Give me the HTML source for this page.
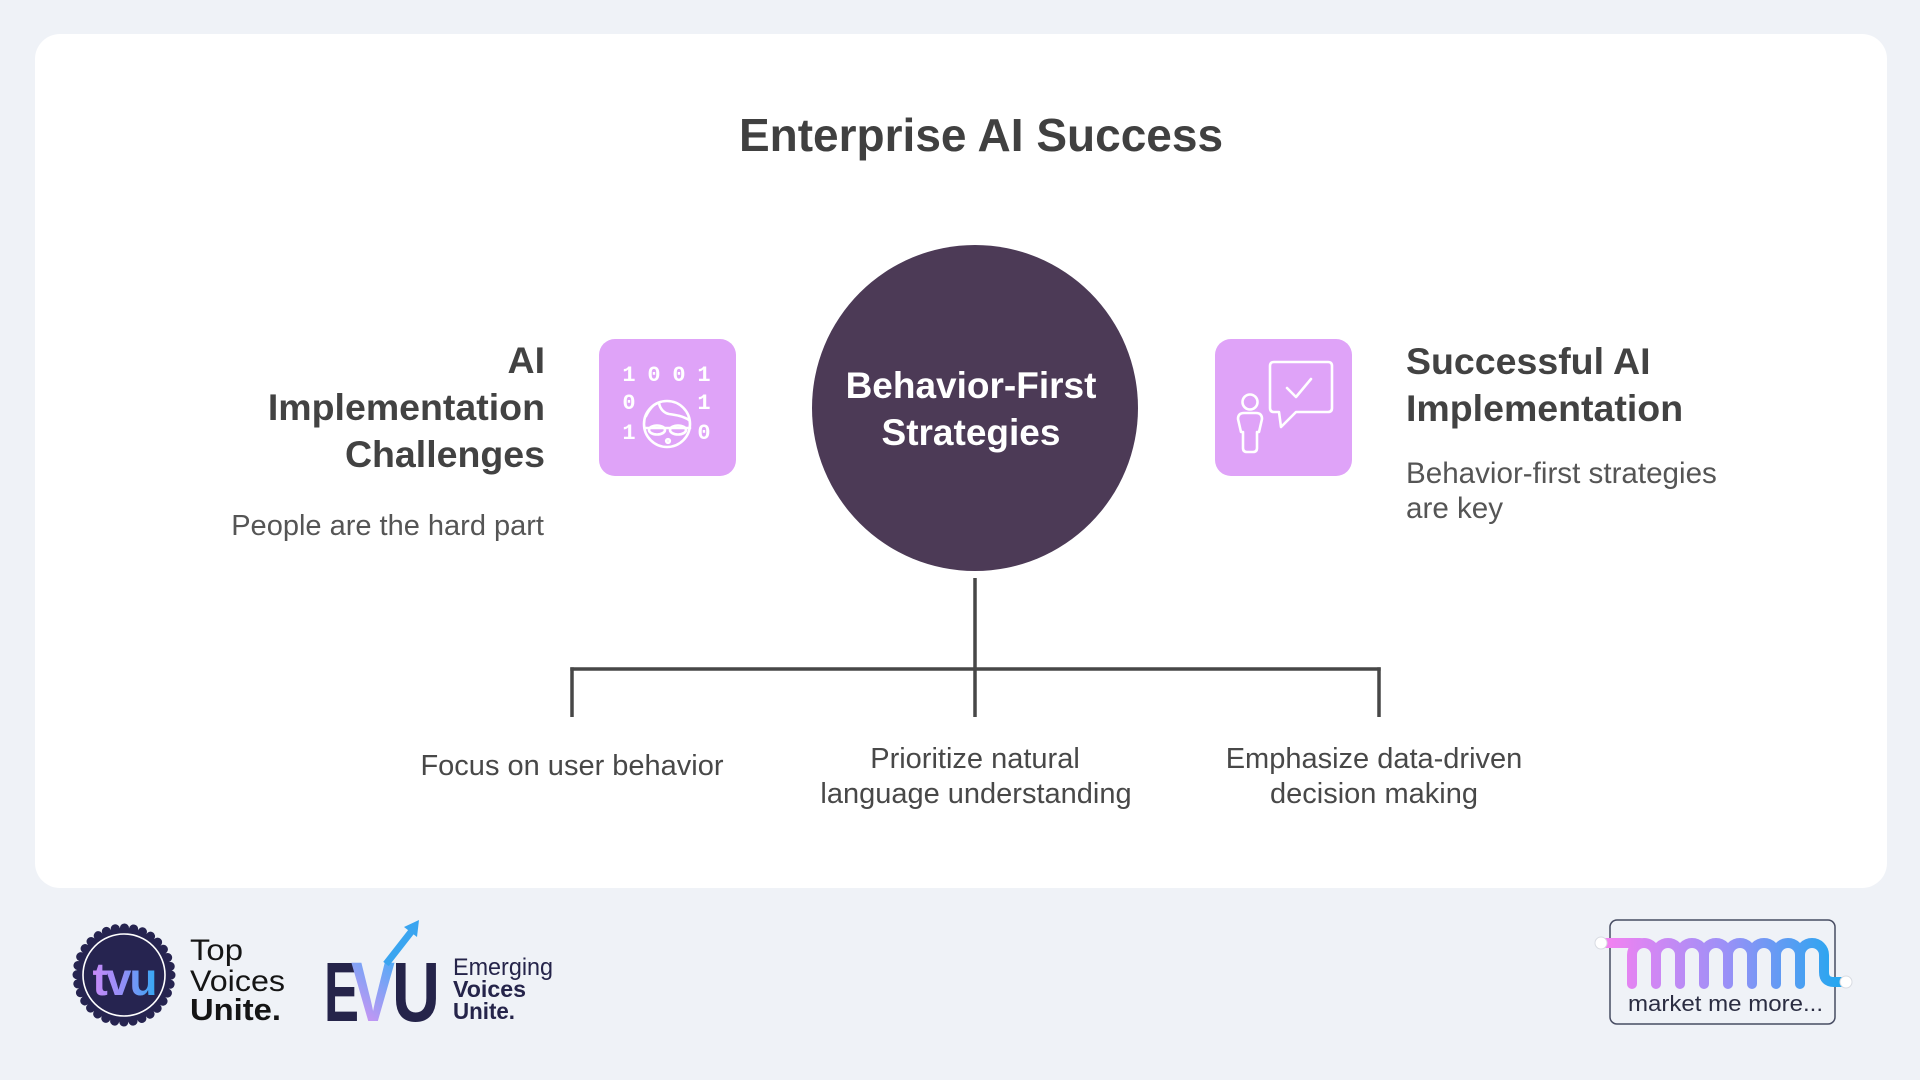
<!DOCTYPE html>
<html>
<head>
<meta charset="utf-8">
<style>
  html, body { margin: 0; padding: 0; }
  body { width: 1920px; height: 1080px; background: #eff2f7; overflow: hidden; }
  svg { display: block; }
</style>
</head>
<body>
<svg width="1920" height="1080" viewBox="0 0 1920 1080" xmlns="http://www.w3.org/2000/svg">
  <defs>
    <linearGradient id="tvuGrad" x1="0" y1="0" x2="1" y2="0">
      <stop offset="0" stop-color="#c98af8"/>
      <stop offset="0.5" stop-color="#8f8ff7"/>
      <stop offset="1" stop-color="#36a8f4"/>
    </linearGradient>
    <linearGradient id="vGrad" x1="0" y1="1" x2="0.4" y2="0">
      <stop offset="0" stop-color="#f08ef2"/>
      <stop offset="1" stop-color="#5aa9f6"/>
    </linearGradient>
    <linearGradient id="mGrad" gradientUnits="userSpaceOnUse" x1="1604" y1="0" x2="1845" y2="0">
      <stop offset="0" stop-color="#f581f1"/>
      <stop offset="0.5" stop-color="#9c90f7"/>
      <stop offset="1" stop-color="#1ea8ef"/>
    </linearGradient>
  </defs>

  <!-- Card -->
  <rect x="35" y="34" width="1852" height="854" rx="25" ry="25" fill="#ffffff"/>

  <!-- Title -->
  <text x="981" y="151" text-anchor="middle" font-family="Liberation Sans, Arial, sans-serif" font-weight="bold" font-size="46" fill="#404040">Enterprise AI Success</text>

  <!-- Left heading -->
  <g font-family="Liberation Sans, Arial, sans-serif" font-weight="bold" font-size="37.5" fill="#424242" text-anchor="end">
    <text x="545" y="373">AI</text>
    <text x="545" y="420">Implementation</text>
    <text x="545" y="467">Challenges</text>
  </g>
  <text x="544" y="535" text-anchor="end" font-family="Liberation Sans, Arial, sans-serif" font-size="29" fill="#555555">People are the hard part</text>

  <!-- Right heading -->
  <g font-family="Liberation Sans, Arial, sans-serif" font-weight="bold" font-size="37.5" fill="#424242">
    <text x="1406" y="374">Successful AI</text>
    <text x="1406" y="421">Implementation</text>
  </g>
  <g font-family="Liberation Sans, Arial, sans-serif" font-size="29.6" fill="#555555">
    <text x="1406" y="483">Behavior-first strategies</text>
    <text x="1406" y="518">are key</text>
  </g>

  <!-- Left icon box -->
  <rect x="599" y="339" width="137" height="137" rx="16" ry="16" fill="#dfa3f8"/>
  <g font-family="Liberation Mono, DejaVu Sans Mono, monospace" font-weight="bold" font-size="22" fill="#ffffff" text-anchor="middle">
    <text x="629" y="381">1</text>
    <text x="654" y="381">0</text>
    <text x="679" y="381">0</text>
    <text x="704" y="381">1</text>
    <text x="629" y="409">0</text>
    <text x="704" y="409">1</text>
    <text x="629" y="439">1</text>
    <text x="704" y="439">0</text>
  </g>
  <g fill="none" stroke="#ffffff" stroke-width="2.6" stroke-linecap="round" stroke-linejoin="round">
    <circle cx="667" cy="424" r="23"/>
    <path d="M646,416 C650,408 655,403 659,403 C660,409 664,413 669,414 C676,415 683,416 689,420"/>
    <path d="M645,428 L690,428"/>
    <ellipse cx="657" cy="430" rx="8" ry="4.5"/>
    <ellipse cx="678" cy="430" rx="8" ry="4.5"/>
    <circle cx="668" cy="441" r="1.8"/>
  </g>

  <!-- Right icon box -->
  <rect x="1215" y="339" width="137" height="137" rx="16" ry="16" fill="#dfa3f8"/>
  <g fill="none" stroke="#ffffff" stroke-width="2.6" stroke-linecap="round" stroke-linejoin="round">
    <path d="M1274,362 H1328 Q1332,362 1332,366 V408 Q1332,412 1328,412 H1296 L1281,427 L1279,412 H1274 Q1270,412 1270,408 V366 Q1270,362 1274,362 Z"/>
    <polyline points="1287,388 1296,397 1311,379"/>
    <circle cx="1250" cy="402" r="7.5"/>
    <path d="M1244,413 H1256 Q1262,413 1262,419 L1259,432 H1257 V448 Q1257,452 1253,452 H1247 Q1243,452 1243,448 V432 H1241 L1238,419 Q1238,413 1244,413 Z"/>
  </g>

  <!-- Central circle -->
  <circle cx="975" cy="408" r="163" fill="#4c3a56"/>
  <g font-family="Liberation Sans, Arial, sans-serif" font-weight="bold" font-size="37" fill="#ffffff" text-anchor="middle">
    <text x="971" y="398">Behavior-First</text>
    <text x="971" y="445">Strategies</text>
  </g>

  <!-- Connectors -->
  <g stroke="#474747" stroke-width="3.5" fill="none" stroke-linecap="butt">
    <line x1="975" y1="578" x2="975" y2="717"/>
    <line x1="570.3" y1="669" x2="1380.7" y2="669"/>
    <line x1="572" y1="667.3" x2="572" y2="717"/>
    <line x1="1379" y1="667.3" x2="1379" y2="717"/>
  </g>

  <!-- Bottom labels -->
  <g font-family="Liberation Sans, Arial, sans-serif" font-size="29" fill="#484848" text-anchor="middle">
    <text x="572" y="775">Focus on user behavior</text>
    <text x="975" y="768">Prioritize natural</text>
    <text x="976" y="803">language understanding</text>
    <text x="1374" y="768">Emphasize data-driven</text>
    <text x="1374" y="803">decision making</text>
  </g>

  <!-- TVU badge -->
  <circle cx="124" cy="975" r="47" fill="#262450"/>
  <circle cx="124" cy="975" r="47" fill="none" stroke="#262450" stroke-width="9" stroke-linecap="round" stroke-dasharray="0.1 9.13"/>
  <circle cx="124" cy="975" r="41" fill="none" stroke="#ffffff" stroke-width="1.6"/>
  <text x="124" y="995" text-anchor="middle" font-family="Liberation Sans, Arial, sans-serif" font-weight="bold" font-size="46" letter-spacing="-2" fill="url(#tvuGrad)">tvu</text>

  <g font-family="Liberation Sans, Arial, sans-serif" fill="#151515">
    <text x="190" y="960" font-size="30" textLength="53" lengthAdjust="spacingAndGlyphs">Top</text>
    <text x="190" y="991" font-size="30" textLength="95" lengthAdjust="spacingAndGlyphs">Voices</text>
    <text x="190" y="1020" font-size="31" font-weight="bold" textLength="91" lengthAdjust="spacingAndGlyphs">Unite.</text>
  </g>

  <!-- EVU logo -->
  <g font-family="Liberation Sans, Arial, sans-serif" font-weight="bold" font-size="84">
    <text x="324" y="1021" fill="#25244a" textLength="35" lengthAdjust="spacingAndGlyphs">E</text>
    <text x="351" y="1021" fill="url(#vGrad)" textLength="44" lengthAdjust="spacingAndGlyphs">V</text>
    <text x="392" y="1021" fill="#25244a" textLength="48" lengthAdjust="spacingAndGlyphs">U</text>
  </g>
  <line x1="386" y1="964" x2="411" y2="932" stroke="#3aa5f0" stroke-width="7" stroke-linecap="butt"/>
  <polygon points="419,920 417,937 404,927" fill="#3aa5f0"/>
  <g font-family="Liberation Sans, Arial, sans-serif" fill="#25244a">
    <text x="453" y="975" font-size="24" textLength="100" lengthAdjust="spacingAndGlyphs">Emerging</text>
    <text x="453" y="997" font-size="23" font-weight="bold" textLength="73" lengthAdjust="spacingAndGlyphs">Voices</text>
    <text x="453" y="1019" font-size="23" font-weight="bold" textLength="62" lengthAdjust="spacingAndGlyphs">Unite.</text>
  </g>

  <!-- market me more logo -->
  <rect x="1610" y="920" width="225" height="104" rx="7" ry="7" fill="none" stroke="#474c62" stroke-width="1.5"/>
  <g fill="none" stroke="url(#mGrad)" stroke-width="10" stroke-linecap="round" stroke-linejoin="round">
    <path d="M1601,943 H1640"/>
    <path d="M1632,984 V955 A12,12 0 0 1 1656,955 V984"/>
    <path d="M1656,955 A12,12 0 0 1 1680,955 V984"/>
    <path d="M1680,955 A12,12 0 0 1 1704,955 V984"/>
    <path d="M1704,955 A12,12 0 0 1 1728,955 V984"/>
    <path d="M1728,955 A12,12 0 0 1 1752,955 V984"/>
    <path d="M1752,955 A12,12 0 0 1 1776,955 V984"/>
    <path d="M1776,955 A12,12 0 0 1 1800,955 V984"/>
    <path d="M1800,955 A12,12 0 0 1 1824,955 V972 Q1824,982 1834,982 H1845"/>
  </g>
  <circle cx="1601" cy="943" r="6" fill="#ffffff" stroke="#d8dbe2" stroke-width="1"/>
  <circle cx="1846" cy="982" r="6" fill="#ffffff" stroke="#d8dbe2" stroke-width="1"/>
  <text x="1628" y="1011" font-family="Liberation Sans, Arial, sans-serif" font-size="22" fill="#2b2d42" textLength="195" lengthAdjust="spacingAndGlyphs">market me more...</text>
</svg>
</body>
</html>
